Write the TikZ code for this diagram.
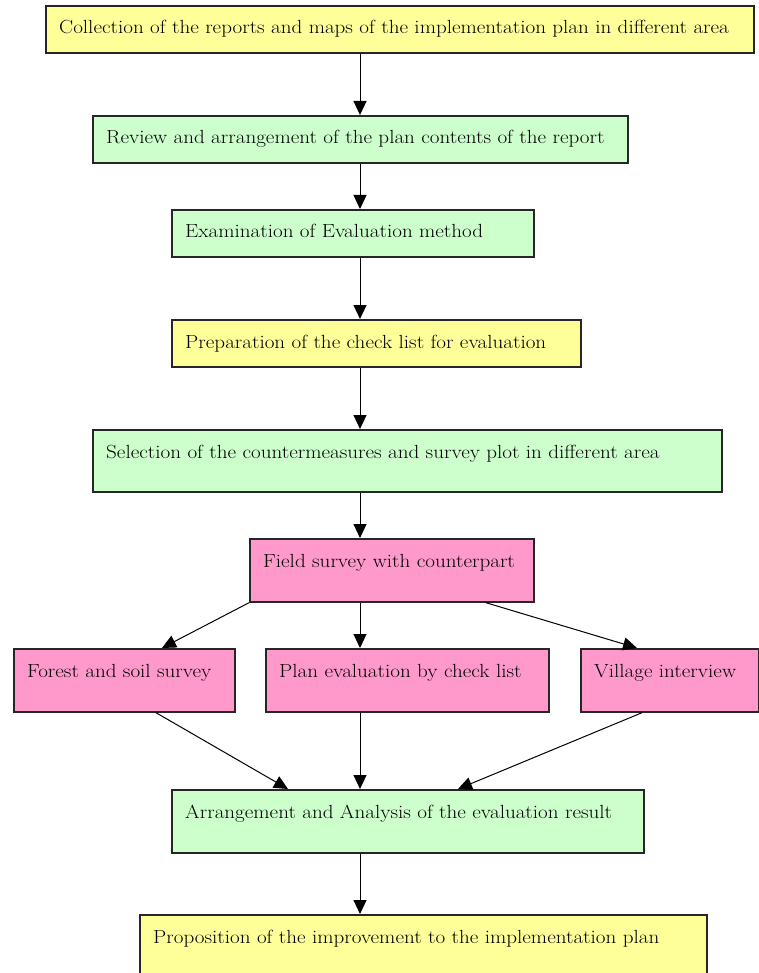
\documentclass[tikz,border=0pt]{standalone}
\usepackage{graphicx}
\usetikzlibrary{arrows.meta}
\definecolor{yel}{HTML}{FFFF99}
\definecolor{grn}{HTML}{CCFFCC}
\definecolor{pnk}{HTML}{FF99CC}
\newcommand\wtxt[1]{\scalebox{1.11}[1.0]{#1}}
\begin{document}
\begin{tikzpicture}[x=1pt,y=-1pt,
  box/.style={draw=black!85, line width=1.7pt, rectangle, inner sep=0pt, anchor=north west},
  lbl/.style={anchor=base west, inner sep=0pt, font=\fontsize{19}{22}\selectfont},
  arr/.style={line width=1pt, -{Triangle[width=13pt,length=14pt]}}]
\useasboundingbox (0,0) rectangle (759,973);
\clip (0,0) rectangle (759,973);
% boxes
\node[box, fill=yel, minimum width=708pt, minimum height=47pt] (b1) at (45,5) {};
\node[box, fill=grn, minimum width=535pt, minimum height=47pt] (b2) at (92,115) {};
\node[box, fill=grn, minimum width=362pt, minimum height=47pt] (b3) at (171,209) {};
\node[box, fill=yel, minimum width=409pt, minimum height=47pt] (b4) at (171,319) {};
\node[box, fill=grn, minimum width=629pt, minimum height=62pt] (b5) at (92,429) {};
\node[box, fill=pnk, minimum width=284pt, minimum height=63pt] (b6) at (249,538) {};
\node[box, fill=pnk, minimum width=221pt, minimum height=63pt] (b7) at (13,648) {};
\node[box, fill=pnk, minimum width=283pt, minimum height=63pt] (b8) at (265,648) {};
\node[box, fill=pnk, minimum width=178pt, minimum height=63pt] (b9) at (580,648) {};
\node[box, fill=grn, minimum width=472pt, minimum height=63pt] (b10) at (171,789) {};
\node[box, fill=yel, minimum width=567pt, minimum height=80pt] (b11) at (139,914) {};
% labels
\node[lbl] (t1) at ([xshift=14pt,yshift=-29pt]b1.north west) {\wtxt{Collection of the reports and maps of the implementation plan in different area}};
\node[lbl] (t2) at ([xshift=14pt,yshift=-29pt]b2.north west) {\wtxt{Review and arrangement of the plan contents of the report}};
\node[lbl] (t3) at ([xshift=14pt,yshift=-29pt]b3.north west) {\wtxt{Examination of Evaluation method}};
\node[lbl] (t4) at ([xshift=14pt,yshift=-29pt]b4.north west) {\wtxt{Preparation of the check list for evaluation}};
\node[lbl] (t5) at ([xshift=14pt,yshift=-29pt]b5.north west) {\wtxt{Selection of the countermeasures and survey plot in different area}};
\node[lbl] (t6) at ([xshift=14pt,yshift=-29pt]b6.north west) {\wtxt{Field survey with counterpart}};
\node[lbl] (t7) at ([xshift=14pt,yshift=-29pt]b7.north west) {\wtxt{Forest and soil survey}};
\node[lbl] (t8) at ([xshift=14pt,yshift=-29pt]b8.north west) {\wtxt{Plan evaluation by check list}};
\node[lbl] (t9) at ([xshift=14pt,yshift=-29pt]b9.north west) {\wtxt{Village interview}};
\node[lbl] (t10) at ([xshift=14pt,yshift=-29pt]b10.north west) {\wtxt{Arrangement and Analysis of the evaluation result}};
\node[lbl] (t11) at ([xshift=14pt,yshift=-29pt]b11.north west) {\wtxt{Proposition of the improvement to the implementation plan}};
% connectors
\draw[arr] (b1.south west -| 360,0) -- (b2.north west -| 360,0);
\draw[arr] (b2.south west -| 360,0) -- (b3.north west -| 360,0);
\draw[arr] (b3.south west -| 360,0) -- (b4.north west -| 360,0);
\draw[arr] (b4.south west -| 360,0) -- (b5.north west -| 360,0);
\draw[arr] (b5.south west -| 360,0) -- (b6.north west -| 360,0);
\draw[arr] (b6.south west) -- (b7.north west -| 162,0);
\draw[arr] (b6.south west -| 360,0) -- (b8.north west -| 360,0);
\draw[arr] (b6.south west -| 486,0) -- (b9.north west -| 637,0);
\draw[arr] (b7.south west -| 156,0) -- (b10.north west -| 288,0);
\draw[arr] (b8.south west -| 360,0) -- (b10.north west -| 360,0);
\draw[arr] (b9.south west -| 642,0) -- (b10.north west -| 458,0);
\draw[arr] (b10.south west -| 360,0) -- (b11.north west -| 360,0);
\end{tikzpicture}
\end{document}
